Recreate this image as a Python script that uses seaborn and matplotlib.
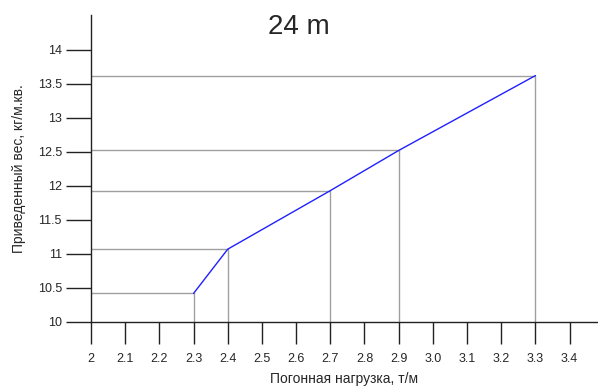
import matplotlib
matplotlib.use("Agg")
import matplotlib.pyplot as plt
import seaborn as sns
import pandas as pd

# values
load = [2.3, 2.4, 2.7, 2.9, 3.3]
weight = [10.42, 11.07, 11.93, 12.52, 13.62]

x_ticks = [2.0, 2.1, 2.2, 2.3, 2.4, 2.5, 2.6, 2.7, 2.8, 2.9, 3.0, 3.1, 3.2, 3.3, 3.4]
x_labels = ["2", "2.1", "2.2", "2.3", "2.4", "2.5", "2.6", "2.7", "2.8", "2.9",
            "3.0", "3.1", "3.2", "3.3", "3.4"]
y_ticks = [10, 10.5, 11, 11.5, 12, 12.5, 13, 13.5, 14]
y_labels = ["10", "10.5", "11", "11.5", "12", "12.5", "13", "13.5", "14"]

df = pd.DataFrame({"load": load, "weight": weight})

sns.set_style("ticks")
plt.rcParams["font.family"] = ["Liberation Sans", "DejaVu Sans"]

fig = plt.figure(figsize=(5.98, 3.87), dpi=100)
ax = fig.add_axes([91 / 598, 65 / 387, 507 / 598, 307 / 387])

x0, y0 = 2.0, 10.0
# gray guide lines from each point to the axes
for xv, yv in zip(load, weight):
    ax.plot([x0, xv], [yv, yv], color="#a0a0a0", lw=1.0, zorder=1)
    ax.plot([xv, xv], [y0, yv], color="#a0a0a0", lw=1.0, zorder=1)

sns.lineplot(data=df, x="load", y="weight", ax=ax, color="#2020ff", lw=1.0, zorder=3)

ax.set_xlim(2.0, 3.483)
ax.set_ylim(10.0, 14.51)
ax.set_xticks(x_ticks)
ax.set_xticklabels(x_labels)
ax.set_yticks(y_ticks)
ax.set_yticklabels(y_labels)
ax.tick_params(axis="x", length=16, width=1.0, color="#222222", labelsize=9, pad=6)
ax.tick_params(axis="y", length=18, width=1.0, color="#222222", labelsize=9, pad=3)

sns.despine(ax=ax)
for s in ("left", "bottom"):
    ax.spines[s].set_color("#222222")
    ax.spines[s].set_linewidth(1.0)

ax.set_xlabel("Погонная нагрузка, т/м", fontsize=10, labelpad=5)
ax.set_ylabel("Приведенный вес, кг/м.кв.", fontsize=10, labelpad=8)
fig.text(0.5, 0.93, "24 m", ha="center", va="center", fontsize=20)

fig.savefig("out.png", dpi=100)
